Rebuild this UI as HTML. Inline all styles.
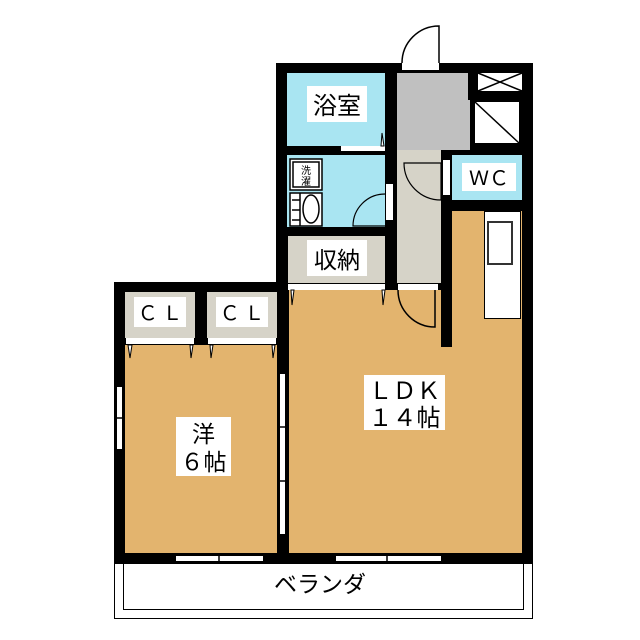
<!DOCTYPE html>
<html><head><meta charset="utf-8"><style>
body{margin:0;width:640px;height:640px;background:#fff;position:relative;overflow:hidden;font-family:"Liberation Sans","Noto Sans CJK JP",sans-serif}
div{position:absolute;box-sizing:border-box}
.k{background:#000}
.t{background:#e3b46e}
.b{background:#a9e5f2}
.g{background:#c0c0c0}
.e{background:#d6d3c8}
.w{background:#fff}
.lab{background:#fff;color:#000;text-align:center;line-height:1.2;font-family:"Noto Sans CJK JP",sans-serif;white-space:nowrap}
</style></head><body>
<div class="k" style="left:276px;top:63px;width:257px;height:230px"></div>
<div class="k" style="left:114px;top:282px;width:419px;height:282px"></div>
<div class="b" style="left:287px;top:73px;width:98px;height:73px"></div>
<div class="w" style="left:341px;top:146px;width:44px;height:5px"></div>
<div class="b" style="left:287px;top:155px;width:98px;height:72px"></div>
<div class="w" style="left:386px;top:184px;width:7px;height:36px"></div>
<div class="e" style="left:288px;top:236px;width:97px;height:47px"></div>
<div class="w" style="left:288px;top:284px;width:97px;height:6px"></div>
<div class="g" style="left:397px;top:73px;width:71px;height:77px"></div>
<div class="g" style="left:397px;top:100px;width:73px;height:50px"></div>
<div class="e" style="left:397px;top:150px;width:44px;height:133px"></div>
<div class="w" style="left:398px;top:284px;width:40px;height:6px"></div>
<div class="w" style="left:402px;top:63px;width:37px;height:7px"></div>
<div class="w" style="left:478px;top:73px;width:44px;height:18px"></div>
<div class="w" style="left:475px;top:102px;width:44px;height:41px"></div>
<div class="b" style="left:452px;top:155px;width:70px;height:45px"></div>
<div class="w" style="left:443px;top:160px;width:7px;height:35px"></div>
<div class="t" style="left:452px;top:211px;width:70px;height:342px"></div>
<div class="t" style="left:289px;top:290px;width:152px;height:263px"></div>
<div class="t" style="left:441px;top:347px;width:12px;height:206px"></div>
<div class="w" style="left:484px;top:211px;width:37px;height:108px;border:1px solid #000"></div>
<div style="left:487px;top:221px;width:26px;height:44px;border:2px solid #333;background:#fff"></div>
<div class="e" style="left:125px;top:292px;width:70px;height:46px"></div>
<div class="e" style="left:207px;top:292px;width:70px;height:46px"></div>
<div class="w" style="left:126px;top:338px;width:68px;height:6px"></div>
<div class="w" style="left:208px;top:338px;width:68px;height:6px"></div>
<div class="t" style="left:125px;top:345px;width:152px;height:208px"></div>
<div class="w" style="left:116px;top:386px;width:7px;height:64px;border:1px solid #000"></div>
<div class="w" style="left:279px;top:373px;width:7px;height:162px;border:1px solid #000"></div>
<div class="w" style="left:175px;top:555px;width:89px;height:7px;border:1px solid #000"></div>
<div class="w" style="left:335px;top:555px;width:107px;height:7px;border:1px solid #000"></div>
<div style="left:114px;top:563px;width:419px;height:56px;border:1px solid #000;border-top:none"></div>
<div style="left:123px;top:563px;width:401px;height:47px;border:1px solid #000;border-top:none"></div>
<svg style="position:absolute;left:0;top:0" width="640" height="640">
<g fill="none" stroke="#000" stroke-width="1.5">
<path d="M402 63 A37 37 0 0 1 439 26 L439 63"/>
<path d="M478 73 L522 91 M522 73 L478 91"/>
<path d="M475 102 L519 143"/>
<path d="M404 163 A37 37 0 0 0 441 200 L441 163 Z" stroke-width="1.2"/>
<path d="M385 194 A32 32 0 0 0 353 226 L385 226" stroke-width="1.2"/>
<path d="M398 290 A37 37 0 0 0 435 327 L435 290"/>
<rect x="290" y="159" width="32" height="31" fill="#fff"/>
<rect x="293" y="162" width="26" height="25"/>
<rect x="290" y="193" width="32" height="33" fill="#fff"/>
<ellipse cx="311" cy="209" rx="8" ry="14"/>
<path d="M292 200 H300 M292 210 H300 M292 220 H300 M300 193 V226"/>
<path d="M117 418 H123 M278 427 H287 M278 481 H287 M219 555 V563 M387 555 V563"/>
</g>
<g fill="#fff" stroke="#000" stroke-width="1">
<path d="M128 345 L130 358 L132 345Z M190 345 L191 358 L193 345Z M210 345 L211 358 L213 345Z M272 345 L273 358 L275 345Z M291 290 L292 305 L294 290Z M382 290 L383 305 L385 290Z M381 146 L382 133 L384 146Z"/>
</g>
</svg>
<div class="lab" style="left:307px;top:86px;width:60px;height:36px;font-size:24px;line-height:36px">浴室</div>
<div class="lab" style="left:295px;top:164px;width:22px;height:22px;font-size:10px;line-height:11px;background:none">洗<br>濯</div>
<div class="lab" style="left:307px;top:240px;width:60px;height:36px;font-size:23px;line-height:36px">収納</div>
<div class="lab" style="left:462px;top:163px;width:54px;height:28px;font-size:20px;line-height:28px">ＷＣ</div>
<div class="lab" style="left:134px;top:297px;width:52px;height:30px;font-size:20px;line-height:30px">Ｃ Ｌ</div>
<div class="lab" style="left:216px;top:297px;width:52px;height:30px;font-size:20px;line-height:30px">Ｃ Ｌ</div>
<div class="lab" style="left:176px;top:417px;width:55px;height:59px;font-size:23px;line-height:28px;padding-top:1px">洋<br>６帖</div>
<div class="lab" style="left:364px;top:375px;width:81px;height:55px;font-size:24px;line-height:27px">ＬＤＫ<br>１４帖</div>
<div class="lab" style="left:260px;top:566px;width:120px;height:32px;font-size:23px;line-height:32px;background:none">ベランダ</div>
</body></html>
